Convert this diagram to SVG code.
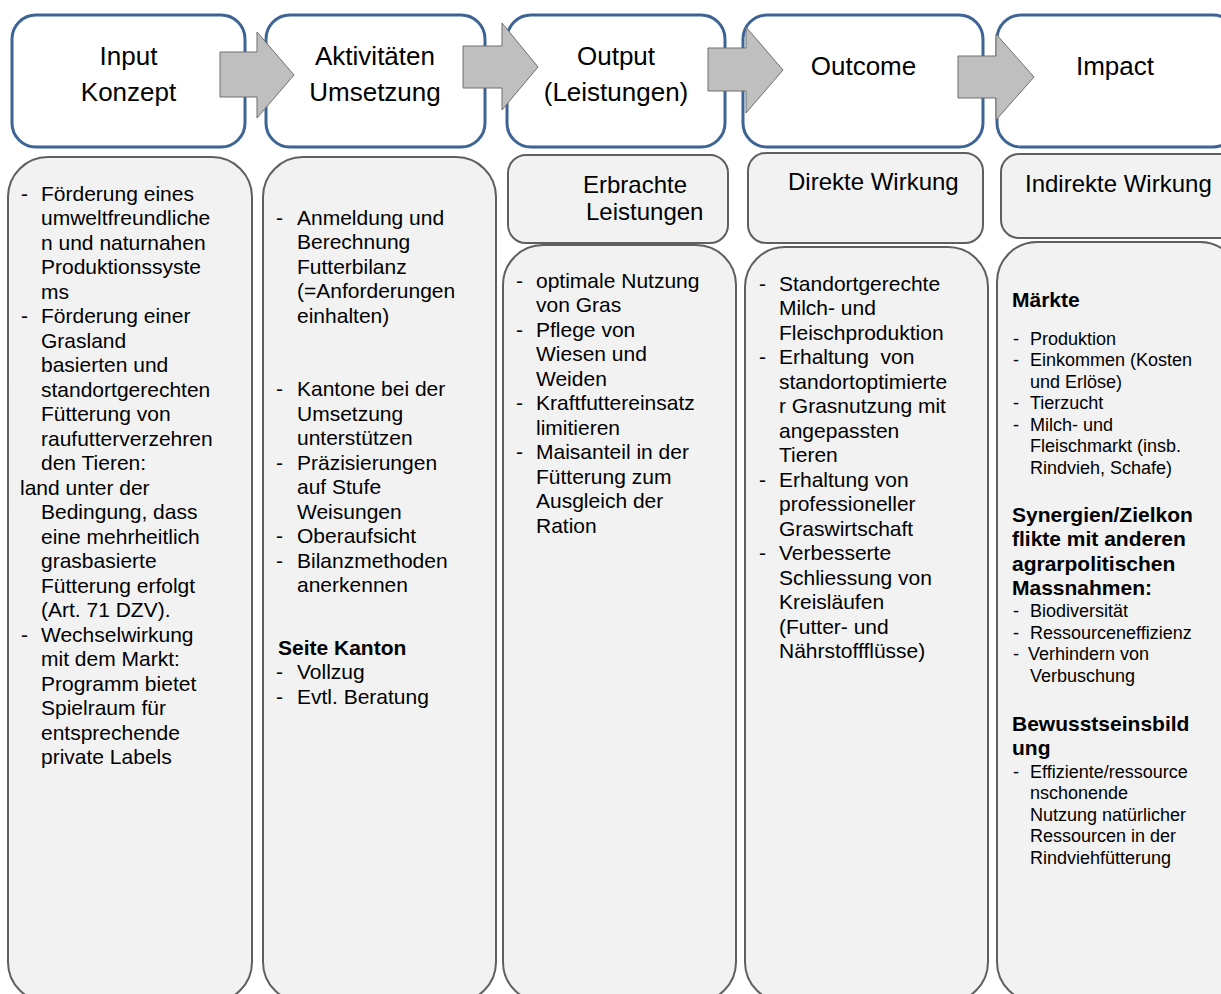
<svg xmlns="http://www.w3.org/2000/svg" width="1221" height="994" viewBox="0 0 1221 994">
<style>
.hdr{fill:#ffffff;stroke:#3d6494;stroke-width:3}
.body{fill:#f2f2f2;stroke:#5f5f5f;stroke-width:2}
.arr{fill:#bfbfbf;stroke:#6e6e6e;stroke-width:1}
.ht{font-family:"Liberation Sans",Arial,sans-serif;font-size:26px;fill:#000;text-anchor:middle}
.st{font-family:"Liberation Sans",Arial,sans-serif;font-size:24px;fill:#000}
.t{font-family:"Liberation Sans",Arial,sans-serif;font-size:21px;fill:#000}
.s{font-family:"Liberation Sans",Arial,sans-serif;font-size:18px;fill:#000}
.b{font-family:"Liberation Sans",Arial,sans-serif;font-size:21px;font-weight:bold;fill:#000}
</style>
<rect width="1221" height="994" fill="#ffffff"/>

<g id="input">
<rect class="hdr" x="12" y="15" width="233" height="132" rx="24"/>
<text class="ht"><tspan x="128.5" y="65">Input</tspan><tspan x="128.5" y="101">Konzept</tspan></text>
</g>
<g id="aktivitaeten">
<rect class="hdr" x="266" y="15" width="219" height="132" rx="24"/>
<text class="ht"><tspan x="375" y="65">Aktivitäten</tspan><tspan x="375" y="101">Umsetzung</tspan></text>
</g>
<g id="output">
<rect class="hdr" x="507" y="15" width="218" height="132" rx="24"/>
<text class="ht"><tspan x="616" y="65">Output</tspan><tspan x="616" y="101">(Leistungen)</tspan></text>
</g>
<g id="outcome">
<rect class="hdr" x="743" y="15" width="240" height="132" rx="24"/>
<text class="ht" x="863.5" y="75">Outcome</text>
</g>
<g id="impact">
<rect class="hdr" x="997" y="15" width="240" height="132" rx="24"/>
<text class="ht" x="1115" y="75">Impact</text>
</g>

<g id="connectors">
<polygon class="arr" points="220,52 257,52 257,32 294,75 257,118 257,97 220,97"/>
<polygon class="arr" points="463,46 502,46 502,23 538,67 502,110 502,88 463,88"/>
<polygon class="arr" points="708,48 746,48 746,27 783,70 746,113 746,91 708,91"/>
<polygon class="arr" points="958,56 996,56 996,34 1034,77 996,120 996,98 958,98"/>
</g>

<g id="input-body">
<rect class="body" x="8" y="157" width="244" height="845" rx="40"/>
<text class="t">
<tspan x="21" y="200.5">-</tspan><tspan x="41" y="200.5">Förderung eines</tspan>
<tspan x="41" y="225">umweltfreundliche</tspan>
<tspan x="41" y="249.5">n und naturnahen</tspan>
<tspan x="41" y="274">Produktionssyste</tspan>
<tspan x="41" y="298.5">ms</tspan>
<tspan x="21" y="323">-</tspan><tspan x="41" y="323">Förderung einer</tspan>
<tspan x="41" y="347.5">Grasland</tspan>
<tspan x="41" y="372">basierten und</tspan>
<tspan x="41" y="396.5">standortgerechten</tspan>
<tspan x="41" y="421">Fütterung von</tspan>
<tspan x="41" y="445.5">raufutterverzehren</tspan>
<tspan x="41" y="470">den Tieren:</tspan>
<tspan x="20" y="494.5">land unter der</tspan>
<tspan x="41" y="519">Bedingung, dass</tspan>
<tspan x="41" y="543.5">eine mehrheitlich</tspan>
<tspan x="41" y="568">grasbasierte</tspan>
<tspan x="41" y="592.5">Fütterung erfolgt</tspan>
<tspan x="41" y="617">(Art. 71 DZV).</tspan>
<tspan x="21" y="641.5">-</tspan><tspan x="41" y="641.5">Wechselwirkung</tspan>
<tspan x="41" y="666">mit dem Markt:</tspan>
<tspan x="41" y="690.5">Programm bietet</tspan>
<tspan x="41" y="715">Spielraum für</tspan>
<tspan x="41" y="739.5">entsprechende</tspan>
<tspan x="41" y="764">private Labels</tspan>
</text>
</g>

<g id="aktivitaeten-body">
<rect class="body" x="263" y="157" width="233" height="845" rx="40"/>
<text class="t">
<tspan x="276" y="224.5">-</tspan><tspan x="297" y="224.5">Anmeldung und</tspan>
<tspan x="297" y="249">Berechnung</tspan>
<tspan x="297" y="273.5">Futterbilanz</tspan>
<tspan x="297" y="298">(=Anforderungen</tspan>
<tspan x="297" y="322.5">einhalten)</tspan>
<tspan x="276" y="396">-</tspan><tspan x="297" y="396">Kantone bei der</tspan>
<tspan x="297" y="420.5">Umsetzung</tspan>
<tspan x="297" y="445">unterstützen</tspan>
<tspan x="276" y="469.5">-</tspan><tspan x="297" y="469.5">Präzisierungen</tspan>
<tspan x="297" y="494">auf Stufe</tspan>
<tspan x="297" y="518.5">Weisungen</tspan>
<tspan x="276" y="543">-</tspan><tspan x="297" y="543">Oberaufsicht</tspan>
<tspan x="276" y="567.5">-</tspan><tspan x="297" y="567.5">Bilanzmethoden</tspan>
<tspan x="297" y="592">anerkennen</tspan>
</text>
<text class="b" x="278" y="654.5">Seite Kanton</text>
<text class="t">
<tspan x="276" y="679">-</tspan><tspan x="297" y="679">Vollzug</tspan>
<tspan x="276" y="703.5">-</tspan><tspan x="297" y="703.5">Evtl. Beratung</tspan>
</text>
</g>

<g id="output-head">
<rect class="body" x="508" y="155" width="220" height="88" rx="18"/>
<text class="st"><tspan x="583" y="193">Erbrachte</tspan><tspan x="586" y="220">Leistungen</tspan></text>
</g>
<g id="output-body">
<rect class="body" x="503" y="245" width="233" height="757" rx="40"/>
<text class="t">
<tspan x="516" y="287.5">-</tspan><tspan x="536" y="287.5">optimale Nutzung</tspan>
<tspan x="536" y="312">von Gras</tspan>
<tspan x="516" y="336.5">-</tspan><tspan x="536" y="336.5">Pflege von</tspan>
<tspan x="536" y="361">Wiesen und</tspan>
<tspan x="536" y="385.5">Weiden</tspan>
<tspan x="516" y="410">-</tspan><tspan x="536" y="410">Kraftfuttereinsatz</tspan>
<tspan x="536" y="434.5">limitieren</tspan>
<tspan x="516" y="459">-</tspan><tspan x="536" y="459">Maisanteil in der</tspan>
<tspan x="536" y="483.5">Fütterung zum</tspan>
<tspan x="536" y="508">Ausgleich der</tspan>
<tspan x="536" y="532.5">Ration</tspan>
</text>
</g>

<g id="outcome-head">
<rect class="body" x="748" y="153" width="235" height="90" rx="18"/>
<text class="st" x="788" y="190">Direkte Wirkung</text>
</g>
<g id="outcome-body">
<rect class="body" x="745" y="247" width="243" height="755" rx="40"/>
<text class="t" xml:space="preserve">
<tspan x="759" y="290.5">-</tspan><tspan x="779" y="290.5">Standortgerechte</tspan>
<tspan x="779" y="315">Milch- und</tspan>
<tspan x="779" y="339.5">Fleischproduktion</tspan>
<tspan x="759" y="364">-</tspan><tspan x="779" y="364">Erhaltung  von</tspan>
<tspan x="779" y="388.5">standortoptimierte</tspan>
<tspan x="779" y="413">r Grasnutzung mit</tspan>
<tspan x="779" y="437.5">angepassten</tspan>
<tspan x="779" y="462">Tieren</tspan>
<tspan x="759" y="486.5">-</tspan><tspan x="779" y="486.5">Erhaltung von</tspan>
<tspan x="779" y="511">professioneller</tspan>
<tspan x="779" y="535.5">Graswirtschaft</tspan>
<tspan x="759" y="560">-</tspan><tspan x="779" y="560">Verbesserte</tspan>
<tspan x="779" y="584.5">Schliessung von</tspan>
<tspan x="779" y="609">Kreisläufen</tspan>
<tspan x="779" y="633.5">(Futter- und</tspan>
<tspan x="779" y="658">Nährstoffflüsse)</tspan>
</text>
</g>

<g id="impact-head">
<rect class="body" x="1001" y="154" width="240" height="84" rx="18"/>
<text class="st" x="1025" y="192">Indirekte Wirkung</text>
</g>
<g id="impact-body">
<rect class="body" x="997" y="242" width="243" height="760" rx="40"/>
<text class="b" x="1012" y="307">Märkte</text>
<text class="s">
<tspan x="1013" y="344.5">-</tspan><tspan x="1030" y="344.5">Produktion</tspan>
<tspan x="1013" y="366">-</tspan><tspan x="1030" y="366">Einkommen (Kosten</tspan>
<tspan x="1030" y="387.5">und Erlöse)</tspan>
<tspan x="1013" y="409">-</tspan><tspan x="1030" y="409">Tierzucht</tspan>
<tspan x="1013" y="430.5">-</tspan><tspan x="1030" y="430.5">Milch- und</tspan>
<tspan x="1030" y="452">Fleischmarkt (insb.</tspan>
<tspan x="1030" y="473.5">Rindvieh, Schafe)</tspan>
</text>
<text class="b">
<tspan x="1012" y="521.5">Synergien/Zielkon</tspan>
<tspan x="1012" y="546">flikte mit anderen</tspan>
<tspan x="1012" y="570.5">agrarpolitischen</tspan>
<tspan x="1012" y="595">Massnahmen:</tspan>
</text>
<text class="s">
<tspan x="1013" y="617">-</tspan><tspan x="1030" y="617">Biodiversität</tspan>
<tspan x="1013" y="638.5">-</tspan><tspan x="1030" y="638.5">Ressourceneffizienz</tspan>
<tspan x="1013" y="660">-</tspan><tspan x="1028" y="660">Verhindern von</tspan>
<tspan x="1030" y="681.5">Verbuschung</tspan>
</text>
<text class="b">
<tspan x="1012" y="730.5">Bewusstseinsbild</tspan>
<tspan x="1012" y="755">ung</tspan>
</text>
<text class="s">
<tspan x="1013" y="777.5">-</tspan><tspan x="1030" y="777.5">Effiziente/ressource</tspan>
<tspan x="1030" y="799">nschonende</tspan>
<tspan x="1030" y="820.5">Nutzung natürlicher</tspan>
<tspan x="1030" y="842">Ressourcen in der</tspan>
<tspan x="1030" y="863.5">Rindviehfütterung</tspan>
</text>
</g>
</svg>
